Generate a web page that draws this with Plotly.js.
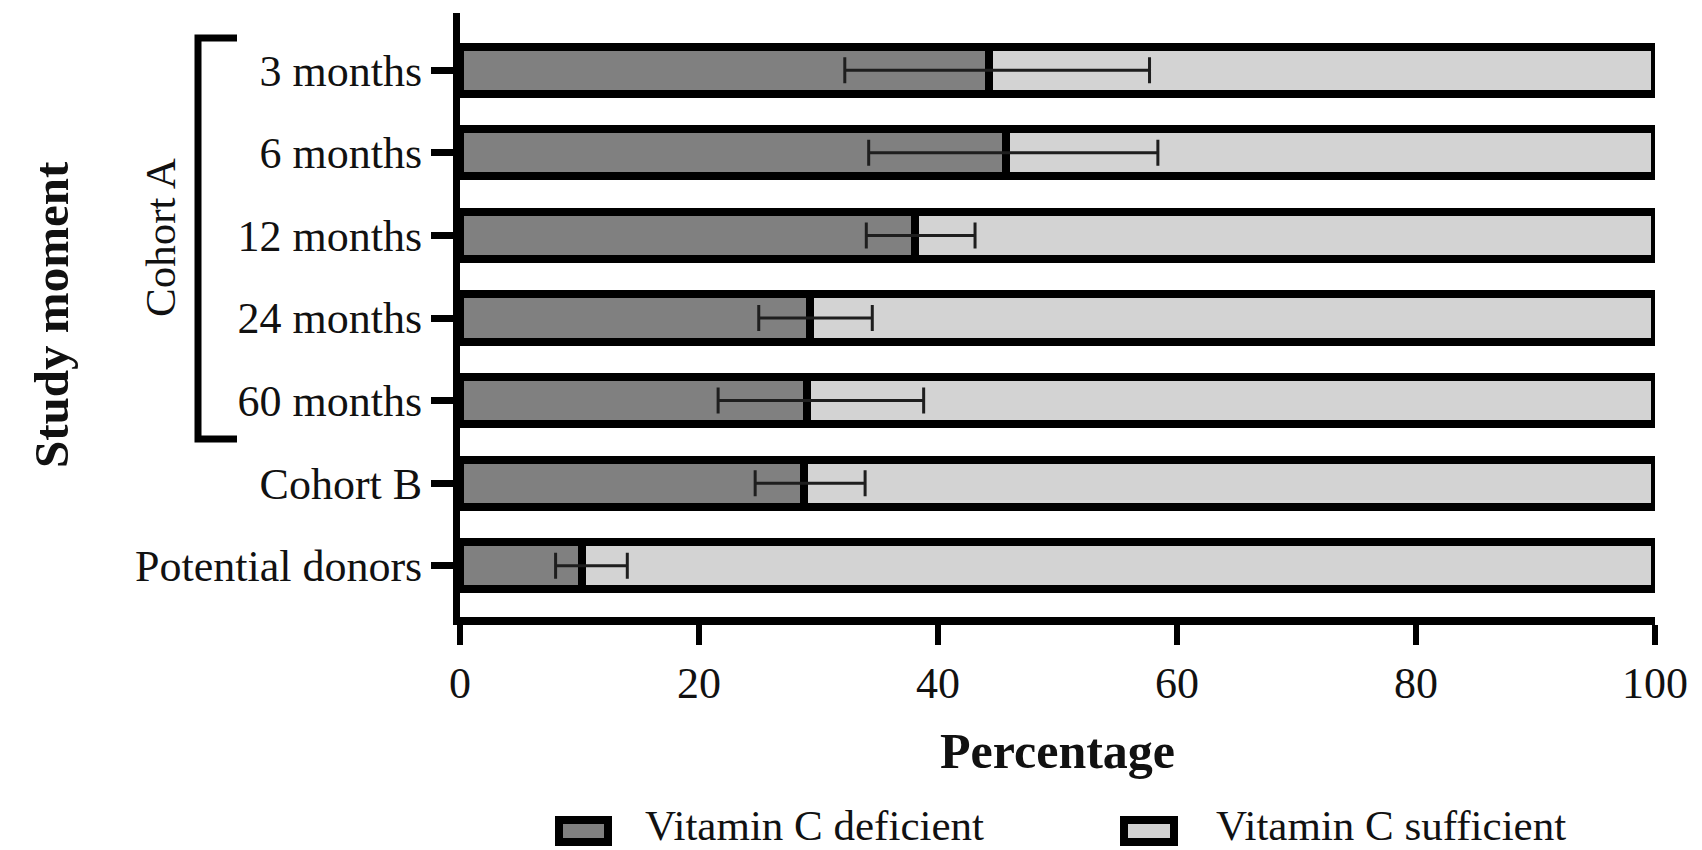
<!DOCTYPE html>
<html>
<head>
<meta charset="utf-8">
<script src="https://cdn.plot.ly/plotly-3.0.1.min.js"></script>
<style>html,body{margin:0;padding:0;background:#fff;}#chart{width:1702px;height:850px;}</style>
</head>
<body>
<div id="chart"></div>
<script>
// ---- data ----
const categories = ['3 months', '6 months', '12 months', '24 months', '60 months', 'Cohort B', 'Potential donors'];
const deficient  = [44.3, 45.7, 38.1, 29.3, 29.0, 28.8, 10.2];
const sufficient = [55.7, 54.3, 61.9, 70.7, 71.0, 71.2, 89.8];
const ciLower    = [32.2, 34.2, 34.0, 25.0, 21.6, 24.7, 8.0];
const ciUpper    = [57.7, 58.4, 43.1, 34.5, 38.8, 33.9, 14.0];
const xTicks     = [0, 20, 40, 60, 80, 100];
const seriesNames = ['Vitamin C deficient', 'Vitamin C sufficient'];
const groupLabel = 'Cohort A';
const xTitle = 'Percentage';
const yTitle = 'Study moment';

const DARK = '#808080', LIGHT = '#d3d3d3', INK = '#111111';
const FONT = 'Liberation Serif, Times New Roman, serif';

const errPlus  = ciUpper.map((u, i) => u - deficient[i]);
const errMinus = deficient.map((d, i) => d - ciLower[i]);

const barCommon = {
  type: 'bar', orientation: 'h', y: categories, width: 0.57,
  cliponaxis: false, hoverinfo: 'x+y'
};

const traces = [
  Object.assign({}, barCommon, {
    name: seriesNames[0], x: deficient,
    marker: {color: DARK, line: {color: '#000', width: 8}}
  }),
  Object.assign({}, barCommon, {
    name: seriesNames[1], x: sufficient,
    marker: {color: LIGHT, line: {color: '#000', width: 8}}
  }),
  {
    type: 'scatter', mode: 'markers', x: deficient, y: categories,
    marker: {size: 1, opacity: 0}, showlegend: false, cliponaxis: false,
    hoverinfo: 'skip',
    error_x: {type: 'data', symmetric: false, array: errPlus, arrayminus: errMinus,
              color: '#1e1e1e', thickness: 3, width: 13}
  }
];

// layout geometry (pixels -> paper)
const L = 460, R = 1655, T = 13, B = 617;
const W = 1702, H = 850;
const px = v => (v - L) / (R - L);
const py = v => (B - v) / (B - T);

const layout = {
  width: W, height: H,
  margin: {l: L, r: W - R, t: T, b: H - B, pad: 0},
  paper_bgcolor: '#fff', plot_bgcolor: '#fff',
  barmode: 'stack', showlegend: false,
  font: {family: FONT, color: INK, size: 44},
  xaxis: {
    range: [0, 100], tickvals: xTicks, ticktext: xTicks.map(String),
    showgrid: false, zeroline: false,
    showline: true, linecolor: '#000', linewidth: 8,
    ticks: 'outside', ticklen: 20, tickwidth: 6, tickcolor: '#000',
    tickfont: {family: FONT, size: 44, color: INK}
  },
  yaxis: {
    type: 'category', categoryorder: 'array', categoryarray: categories.slice().reverse(),
    range: [-0.621, 6.694],
    showgrid: false, zeroline: false,
    showline: true, linecolor: '#000', linewidth: 7,
    ticks: 'outside', ticklen: 22, tickwidth: 7, tickcolor: '#000',
    tickfont: {family: FONT, size: 44, color: INK}
  },
  shapes: [
    // Cohort A bracket
    {type: 'path', xref: 'paper', yref: 'y',
     path: 'M ' + px(237) + ' 6.391 L ' + px(198) + ' 6.391 L ' + px(198) + ' 1.535 L ' + px(237) + ' 1.535',
     line: {color: '#000', width: 7}},
    // legend swatches
    {type: 'rect', xref: 'paper', yref: 'paper', x0: px(559), x1: px(608), y0: py(820), y1: py(842),
     fillcolor: DARK, line: {color: '#000', width: 8}},
    {type: 'rect', xref: 'paper', yref: 'paper', x0: px(1124), x1: px(1174), y0: py(820), y1: py(842),
     fillcolor: LIGHT, line: {color: '#000', width: 8}}
  ],
  annotations: [
    {xref: 'paper', yref: 'paper', x: px(51), y: 0.5, text: '<b>' + yTitle + '</b>', textangle: -90,
     showarrow: false, xanchor: 'center', yanchor: 'middle', font: {family: FONT, size: 49, color: INK}},
    {xref: 'paper', yref: 'paper', x: px(161), y: py(238), text: groupLabel, textangle: -90,
     showarrow: false, xanchor: 'center', yanchor: 'middle', font: {family: FONT, size: 43, color: INK}},
    {xref: 'paper', yref: 'paper', x: 0.5, y: py(751), text: '<b>' + xTitle + '</b>',
     showarrow: false, xanchor: 'center', yanchor: 'middle', font: {family: FONT, size: 50, color: INK}},
    {xref: 'paper', yref: 'paper', x: px(644), y: py(850), text: seriesNames[0],
     showarrow: false, xanchor: 'left', yanchor: 'bottom', borderpad: 0, font: {family: FONT, size: 43, color: INK}},
    {xref: 'paper', yref: 'paper', x: px(1215), y: py(850), text: seriesNames[1],
     showarrow: false, xanchor: 'left', yanchor: 'bottom', borderpad: 0, font: {family: FONT, size: 43, color: INK}}
  ]
};

Plotly.newPlot('chart', traces, layout, {displayModeBar: false, staticPlot: true});
</script>
</body>
</html>
